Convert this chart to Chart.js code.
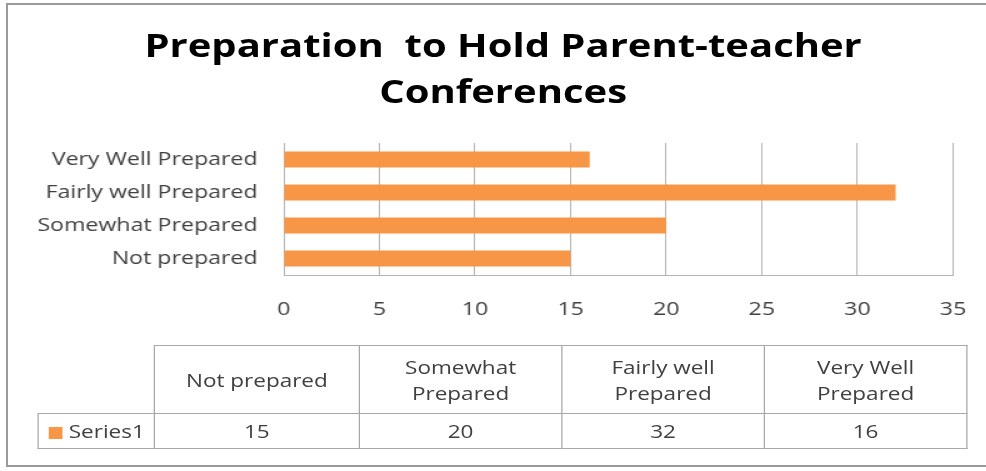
<!DOCTYPE html>
<html>
<head>
<meta charset="utf-8">
<script src="https://cdn.jsdelivr.net/npm/chart.js@4.4.1/dist/chart.umd.min.js"></script>
<style>
  html, body { margin: 0; padding: 0; background: #fff; overflow: hidden; }
  body { width: 986px; height: 471px; position: relative; }
  #frame { position: absolute; left: 6px; top: 3px; width: 990px; height: 464px;
           border: 2px solid #9a9a9a; border-right: 0; box-sizing: border-box; }
  /* the reference is stretched sideways, so everything is laid out narrower and scaled */
  #wrap { position: absolute; left: 0; top: 0; width: 789px; height: 471px;
          transform: scaleX(1.25); transform-origin: 0 0; }
  #title { position: absolute; left: 0; top: 22px; width: 805px; text-align: center;
           font: bold 32px/46px "Open Sans"; color: #000; white-space: pre; }
  #chart { position: absolute; left: 0; top: 0; }
  #tbl { position: absolute; left: 30px; top: 345px; border-collapse: collapse;
         table-layout: fixed; font: 18px/26px "Open Sans"; color: #404040; }
  #tbl td { border: 1px solid #a8a8a8; text-align: center; padding: 0 14px; }
  #tbl tr.head td { height: 67px; }
  #tbl tr.vals td { height: 34px; }
  #tbl td.corner { border-top: 0; border-left: 0; }
  #tbl td.key { text-align: left; padding: 0 0 0 8px; white-space: nowrap; }
  .sq { display: inline-block; width: 11px; height: 12px; background: #F79646;
        margin-right: 5px; vertical-align: -1px; }
</style>
</head>
<body>
<div id="frame"></div>
<div id="wrap">
  <canvas id="chart" width="797" height="330" style="width:797px;height:330px"></canvas>
  <div id="title">Preparation  to Hold Parent-teacher
Conferences</div>
  <table id="tbl">
    <colgroup><col style="width:93px"><col style="width:164px"><col style="width:162px"><col style="width:162px"><col style="width:162px"></colgroup>
    <tbody></tbody>
  </table>
</div>
<script>
const categories = ['Not prepared', 'Somewhat Prepared', 'Fairly well Prepared', 'Very Well Prepared'];
const seriesName = 'Series1';
const values = [15, 20, 32, 16];
const xMin = 0, xMax = 35, xStep = 5;

const barColor = '#F79646';
const gridColor = '#b4b4b4';
const textColor = '#404040';

// data table under the chart
const tbody = document.querySelector('#tbl tbody');
const head = document.createElement('tr');
head.className = 'head';
head.innerHTML = '<td class="corner"></td>' + categories.map(c => `<td>${c}</td>`).join('');
tbody.appendChild(head);
const row = document.createElement('tr');
row.className = 'vals';
row.innerHTML = `<td class="key"><span class="sq"></span>${seriesName}</td>` + values.map(v => `<td>${v}</td>`).join('');
tbody.appendChild(row);

new Chart(document.getElementById('chart'), {
    type: 'bar',
    data: {
        labels: categories,
        datasets: [{
            label: seriesName,
            data: values,
            backgroundColor: barColor,
            barPercentage: 1,
            categoryPercentage: 0.48
        }]
    },
    options: {
        indexAxis: 'y',
        responsive: false,
        animation: false,
        layout: { padding: { top: 143, right: 21, left: 0, bottom: 0 } },
        plugins: {
            legend: { display: false },
            title: { display: false },
            tooltip: { enabled: false }
        },
        scales: {
            x: {
                min: xMin,
                max: xMax,
                ticks: { stepSize: xStep, padding: 24, color: textColor, font: { family: 'Open Sans', size: 18.5 } },
                grid: { color: gridColor, drawTicks: false },
                border: { color: gridColor },
                afterFit: s => { s.height = 55; }
            },
            y: {
                reverse: true,
                grid: { display: false, drawTicks: false },
                border: { display: true, color: gridColor },
                ticks: { padding: 21, color: textColor, font: { family: 'Open Sans', size: 18.5 } },
                afterFit: s => { s.width = 227; }
            }
        }
    }
});
</script>
</body>
</html>
